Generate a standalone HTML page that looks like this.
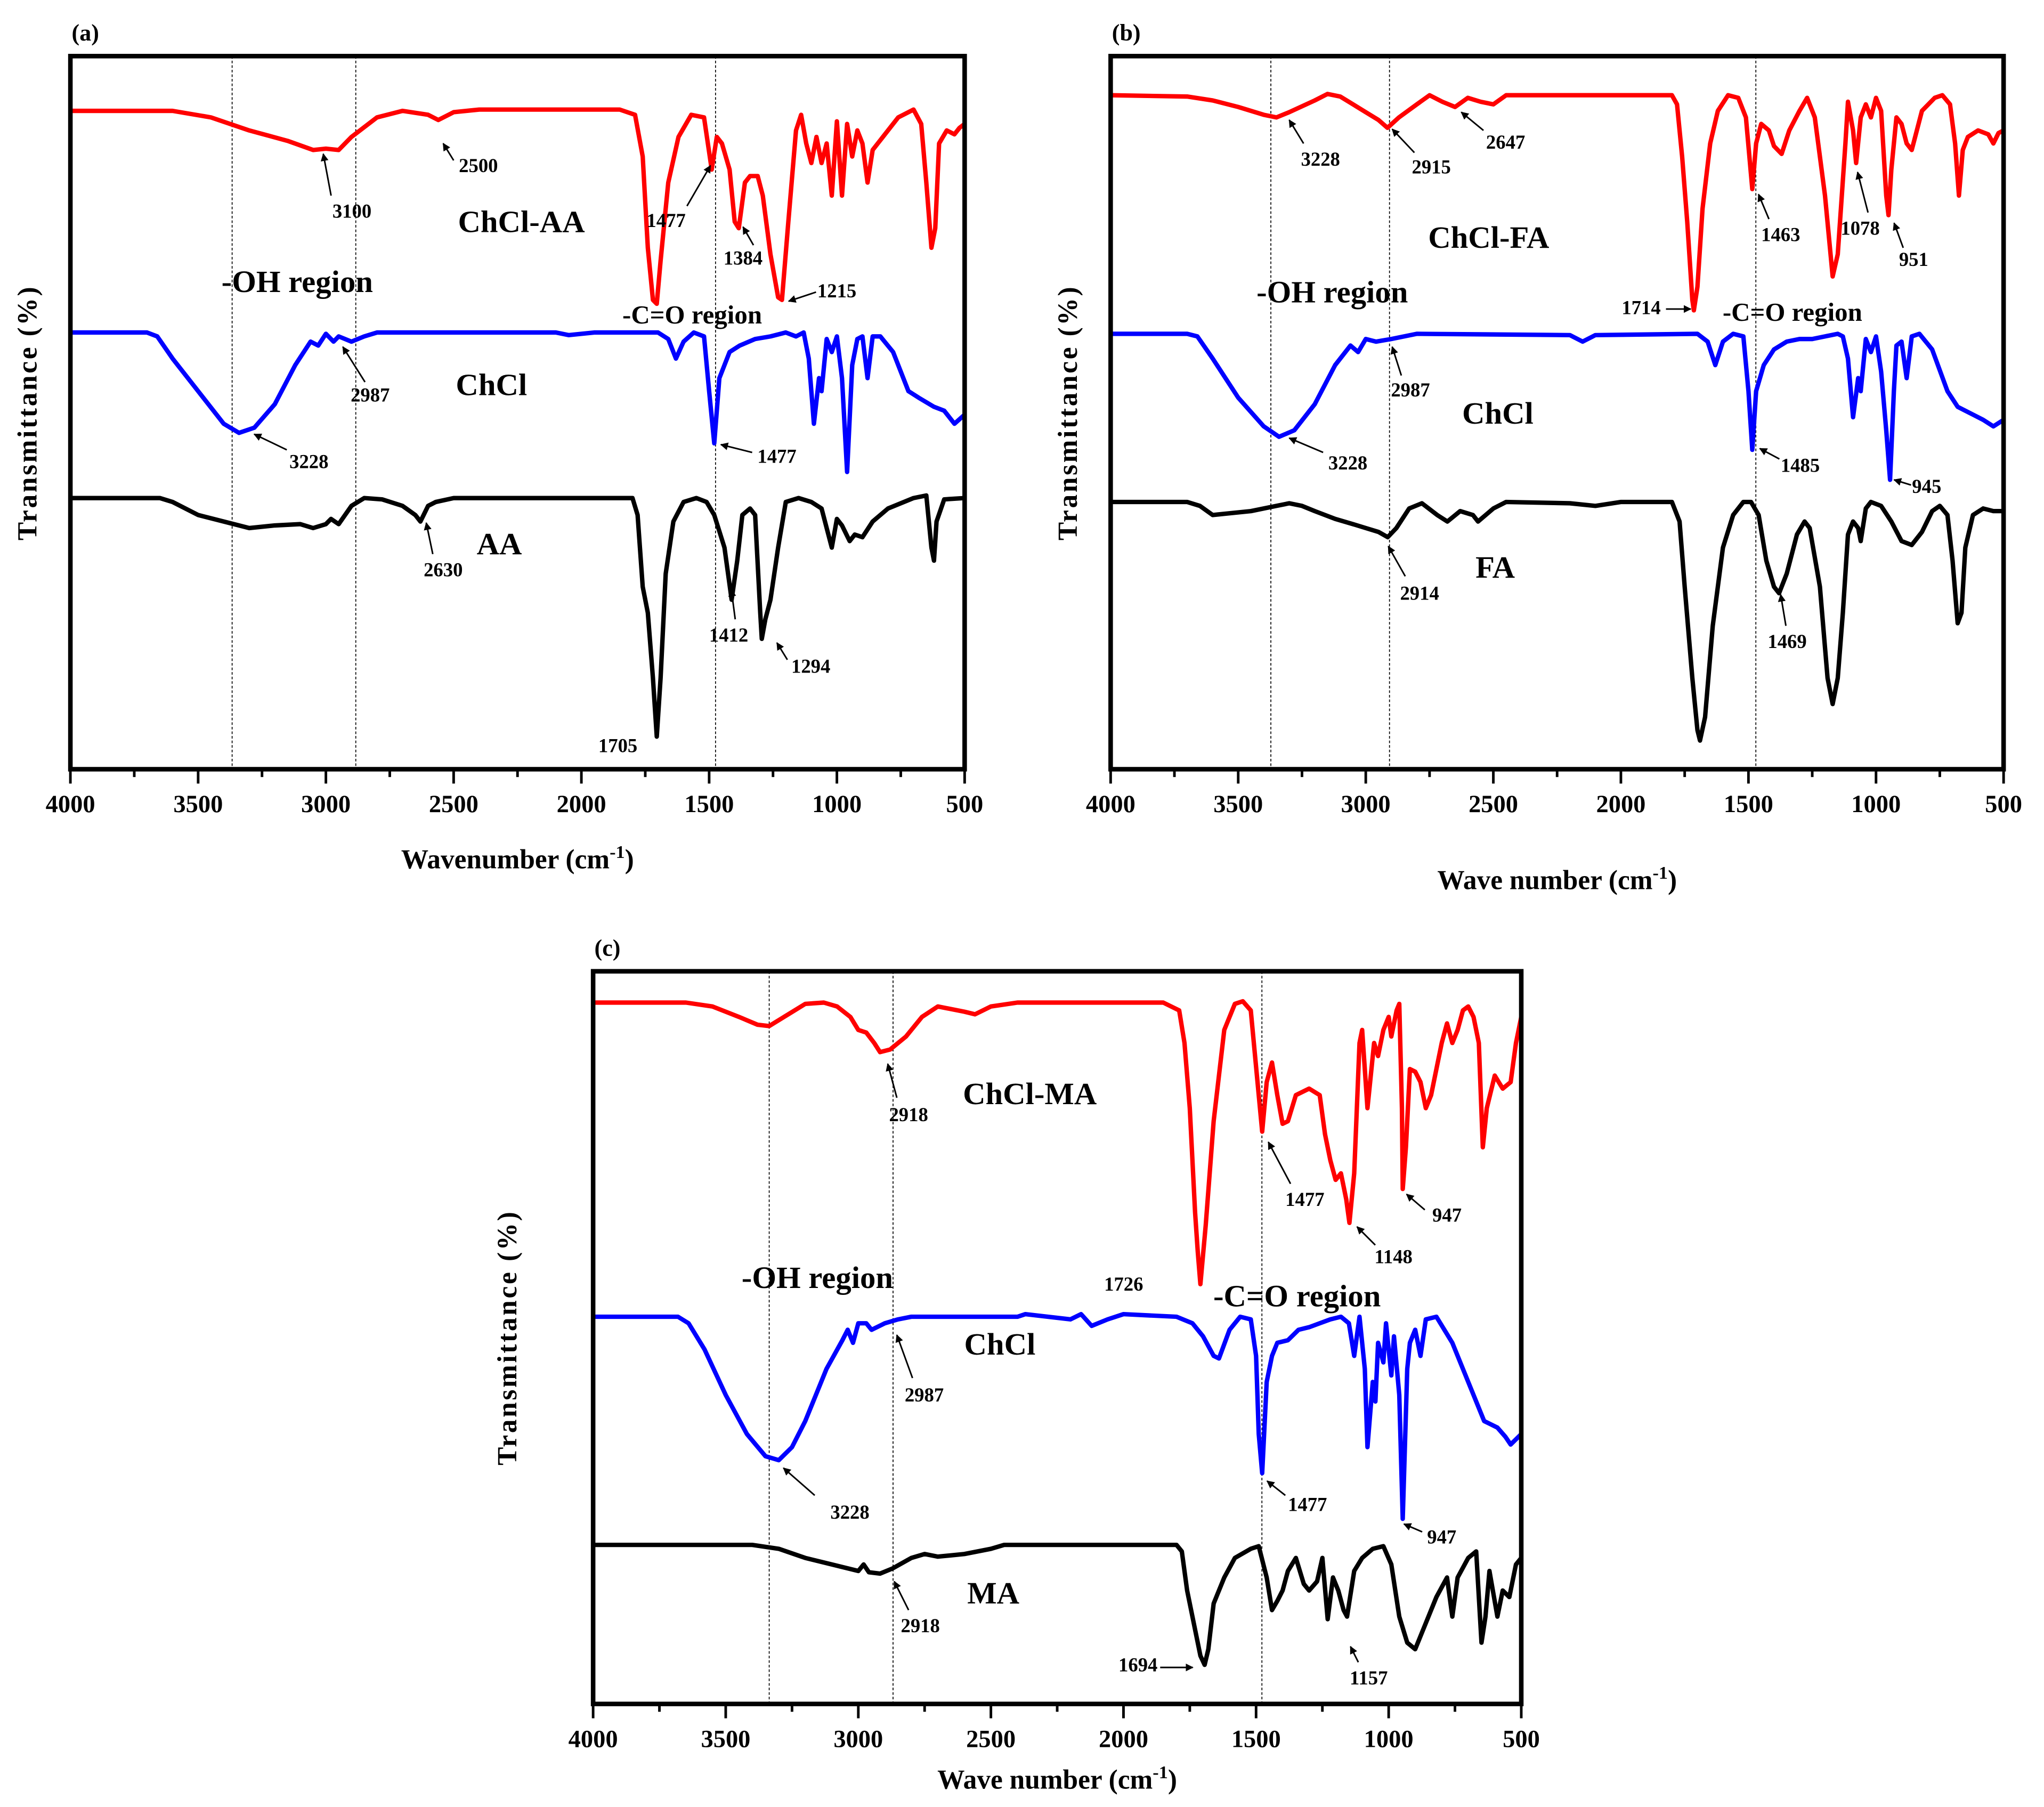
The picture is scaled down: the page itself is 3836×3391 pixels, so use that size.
<!DOCTYPE html>
<html><head><meta charset="utf-8"><style>
html,body{margin:0;padding:0;background:#fff}
svg{display:block}
text{font-family:"Liberation Serif","Times New Roman",serif;font-weight:bold;fill:#000}
</style></head><body>
<svg id="fig" xmlns="http://www.w3.org/2000/svg" width="3836" height="3391" viewBox="0 0 1568 1386">
<defs><marker id="ah" viewBox="0 0 10 10" refX="9" refY="5" markerWidth="5" markerHeight="5" orient="auto"><path d="M0,0 L10,5 L0,10 z" fill="#000"/></marker></defs>
</svg>
<script>
// ---- data: wavenumber (cm-1) and depth values (arbitrary units, increasing downward) ----
const aRedWn=[4000,3600,3450,3300,3150,3050,3000,2950,2900,2800,2700,2600,2560,2500,2400,1850,1790,1760,1740,1720,1705,1690,1660,1620,1570,1520,1490,1470,1450,1420,1400,1384,1360,1340,1310,1290,1260,1230,1215,1190,1160,1140,1120,1100,1080,1060,1040,1020,1000,980,960,940,920,900,880,860,820,760,700,670,650,630,615,600,570,540,520,500];
const aRedV=[85,85,90,100,108,115,114,115,105,90,85,88,92,86,84,84,88,120,190,230,233,200,140,105,88,90,130,105,110,130,170,175,140,135,135,150,195,228,230,170,100,88,110,125,105,125,110,150,93,150,95,120,100,110,140,115,105,90,84,95,140,190,175,110,100,103,98,95];
const aBlueWn=[4000,3700,3660,3600,3500,3400,3340,3280,3200,3120,3060,3030,3000,2970,2950,2900,2850,2800,2100,2050,1950,1700,1660,1630,1600,1560,1520,1500,1480,1460,1420,1380,1320,1260,1200,1160,1130,1110,1090,1070,1060,1040,1020,1000,980,960,940,920,900,880,860,830,780,720,680,620,580,540,500];
const aBlueV=[255,255,258,275,300,325,332,328,310,280,262,265,256,262,258,262,258,255,255,257,255,255,260,275,262,255,258,300,340,290,270,265,260,258,255,258,255,275,325,290,300,260,270,258,290,362,280,260,258,290,258,258,270,300,305,312,315,325,318];
const aBlackWn=[4000,3650,3600,3500,3400,3300,3200,3100,3050,3000,2980,2950,2900,2850,2780,2700,2650,2630,2600,2570,2500,1800,1780,1760,1740,1720,1705,1690,1670,1640,1600,1550,1510,1480,1440,1412,1390,1370,1340,1320,1300,1294,1280,1260,1230,1200,1150,1100,1060,1040,1020,1000,980,950,930,900,860,800,700,650,630,620,610,580,500];
const aBlackV=[382,382,385,395,400,405,403,402,405,402,398,402,388,382,383,388,395,400,388,385,382,382,395,450,470,520,565,520,440,400,385,382,385,395,420,460,430,395,390,395,470,490,475,460,420,385,382,385,390,405,420,398,403,415,410,412,400,390,382,380,420,430,400,383,382];

const bRedWn=[4000,3700,3600,3500,3400,3350,3300,3200,3150,3100,3050,3000,2950,2915,2870,2800,2750,2700,2650,2600,2550,2500,2450,2000,1800,1780,1760,1740,1720,1714,1700,1680,1650,1620,1580,1540,1510,1485,1470,1450,1420,1400,1370,1340,1300,1270,1240,1200,1170,1150,1120,1110,1090,1078,1060,1040,1020,1000,980,960,951,940,920,900,880,860,820,770,740,710,690,675,660,640,600,560,540,520,500];
const bRedV=[73,74,77,82,88,90,86,77,72,74,80,86,92,98,90,80,73,78,82,75,78,80,73,73,73,80,120,170,230,238,220,160,110,85,73,75,90,145,110,95,100,112,118,100,85,75,90,150,212,195,110,78,100,125,90,80,90,75,85,150,165,130,90,95,110,115,85,75,73,80,110,150,115,105,100,103,110,102,100];
const bBlueWn=[4000,3700,3660,3600,3500,3400,3340,3280,3200,3120,3060,3030,3000,2960,2900,2850,2800,2200,2150,2100,1700,1660,1630,1600,1560,1520,1500,1485,1470,1440,1400,1350,1300,1250,1200,1150,1130,1110,1090,1070,1060,1040,1020,1000,980,960,945,930,920,900,880,860,830,780,720,680,620,580,540,500];
const bBlueV=[256,256,258,275,305,327,335,330,310,280,265,270,260,262,260,258,256,257,262,257,256,262,280,262,256,258,300,345,300,280,268,262,260,260,258,256,258,275,320,290,300,260,270,258,285,330,368,300,265,262,290,258,256,268,300,312,318,322,327,322];
const bBlackWn=[4000,3700,3650,3600,3550,3450,3350,3300,3250,3200,3120,3050,3000,2950,2914,2880,2830,2780,2720,2680,2630,2580,2560,2500,2450,2200,2100,2000,1800,1770,1750,1720,1700,1690,1670,1640,1600,1560,1520,1490,1460,1430,1400,1380,1350,1310,1280,1260,1220,1190,1170,1150,1130,1110,1090,1070,1060,1040,1020,980,940,900,860,820,780,750,720,700,680,665,650,620,580,540,500];
const bBlackV=[385,385,388,395,394,392,388,386,388,392,398,402,405,408,412,405,390,386,395,400,392,395,400,390,385,386,388,385,385,400,450,520,560,568,550,480,420,395,385,385,395,430,450,455,440,410,400,405,450,520,540,520,470,410,400,405,415,390,385,388,400,415,418,408,392,388,395,430,478,470,420,395,390,392,392];

const cRedWn=[4000,3650,3550,3450,3380,3336,3280,3200,3130,3080,3030,3000,2970,2940,2918,2880,2820,2760,2700,2600,2560,2500,2400,1850,1790,1770,1750,1730,1720,1710,1690,1660,1620,1580,1550,1520,1490,1477,1460,1440,1420,1400,1380,1350,1300,1260,1240,1220,1200,1180,1160,1148,1130,1110,1100,1080,1070,1055,1040,1020,1000,990,970,960,950,947,935,920,900,880,860,840,800,780,760,740,720,700,680,660,645,630,600,570,540,520,500];
const cRedV=[769,769,772,780,786,787,780,770,769,772,780,790,792,800,807,805,795,780,772,776,778,772,769,769,775,800,850,930,960,985,940,860,790,770,768,775,840,868,830,815,840,862,860,840,835,840,870,890,905,900,920,938,900,800,790,850,830,800,810,790,780,795,775,770,850,912,880,820,822,830,850,840,800,785,800,790,775,772,780,800,880,850,825,835,830,800,780];
const cBlueWn=[4000,3680,3640,3580,3500,3420,3350,3300,3250,3200,3120,3060,3040,3020,3000,2970,2950,2900,2850,2800,2400,2370,2200,2160,2120,2060,2000,1800,1740,1700,1660,1640,1600,1560,1520,1500,1490,1477,1460,1440,1420,1380,1340,1300,1260,1220,1180,1150,1130,1110,1090,1080,1060,1050,1040,1020,1010,990,980,960,947,930,920,900,880,860,820,760,700,640,590,560,540,500];
const cBlueV=[1010,1010,1015,1035,1070,1100,1117,1120,1110,1090,1050,1028,1020,1030,1015,1015,1020,1015,1012,1010,1010,1008,1012,1008,1017,1012,1008,1010,1015,1025,1040,1042,1020,1010,1012,1040,1100,1130,1060,1040,1030,1028,1020,1018,1015,1012,1010,1015,1040,1010,1050,1110,1060,1075,1030,1045,1015,1055,1025,1070,1165,1050,1030,1020,1040,1012,1010,1030,1060,1090,1095,1102,1108,1100];
const cBlackWn=[4000,3400,3300,3200,3100,3000,2980,2960,2918,2870,2800,2750,2700,2600,2500,2450,1800,1780,1760,1730,1710,1694,1680,1660,1620,1580,1520,1490,1460,1440,1420,1400,1380,1350,1320,1300,1270,1250,1230,1210,1190,1170,1157,1130,1100,1060,1020,990,960,930,900,860,820,780,760,740,700,670,650,635,620,590,570,545,520,500];
const cBlackV=[1185,1185,1188,1195,1200,1205,1200,1206,1207,1203,1195,1192,1194,1192,1188,1185,1185,1190,1220,1250,1270,1277,1265,1230,1210,1195,1188,1186,1210,1235,1228,1220,1205,1195,1215,1220,1213,1195,1242,1210,1220,1235,1240,1205,1195,1188,1186,1200,1240,1260,1265,1245,1225,1210,1240,1210,1195,1190,1260,1240,1205,1240,1220,1225,1200,1195];

const xTicks=[4000,3500,3000,2500,2000,1500,1000,500];
const xMinor=[3750,3250,2750,2250,1750,1250,750];

const NS='http://www.w3.org/2000/svg';
const svg=document.getElementById('fig');
function el(tag,attrs,parent){const e=document.createElementNS(NS,tag);for(const k in attrs)e.setAttribute(k,attrs[k]);(parent||svg).appendChild(e);return e;}
function txt(s,x,y,size,parent,anchor){const t=el('text',{x:x,y:y,'font-size':size,'text-anchor':anchor||'middle'},parent);t.textContent=s;return t;}

function panel(cfg){
  const g=el('g',{});
  
  
  const L=cfg.L,R=cfg.R,T=cfg.T,B=cfg.B;
  const xS=wn=>L+(4000-wn)/3500*(R-L);
  const yS=v=>T+(v-cfg.d0)/(cfg.d1-cfg.d0)*(B-T);
  cfg.guides.forEach(w=>{const l=el('line',{x1:xS(w),x2:xS(w),y1:T,y2:B,stroke:'#000','stroke-width':0.7,'stroke-dasharray':'2,1.5'},g);
    });
  cfg.series.forEach(s=>{
    const d=s.wn.map((w,i)=>(i?'L':'M')+xS(w).toFixed(2)+','+yS(s.v[i]).toFixed(2)).join(' ');
    const p=el('path',{d:d,fill:'none',stroke:s.color,'stroke-width':3.4,'stroke-linejoin':'round'},g);
    
    
  });
  const f=el('rect',{x:L,y:T,width:R-L,height:B-T,fill:'none',stroke:'#000','stroke-width':3.5},g);
  
  xTicks.forEach(w=>{el('line',{x1:xS(w),x2:xS(w),y1:B,y2:B+11,stroke:'#000','stroke-width':2},g);
    const t=txt(String(w),xS(w),B+33,19,g);});
  xMinor.forEach(w=>el('line',{x1:xS(w),x2:xS(w),y1:B,y2:B+6,stroke:'#000','stroke-width':2},g));
  const xt=txt('',(L+R)/2,cfg.xtY,21,g);
  
  xt.textContent=cfg.xtitle+' (cm';
  const sup=el('tspan',{dy:-8,'font-size':14},xt);sup.textContent='-1';
  const cl=el('tspan',{dy:8},xt);cl.textContent=')';
  const yt=txt('Transmittance (%)',0,0,21,g);
  yt.setAttribute('transform','translate('+cfg.ytX+','+((T+B)/2)+') rotate(-90)');
  yt.setAttribute('letter-spacing','1.5');
  
  const pl=txt(cfg.label,L+1,T-12,18,g,'start');
  
  cfg.labels.forEach(a=>{const t=txt(a[0],a[1],a[2],a[3],g);});
  cfg.ann.forEach(a=>{const t=txt(a[0],a[1],a[2],15,g);
    if(a.length>3){const l=el('line',{x1:a[3],y1:a[4],x2:a[5],y2:a[6],stroke:'#000','stroke-width':1.2,'marker-end':'url(#ah)'},g);
      }});
}

panel({name:'panel-a',L:54,R:740,T:43,B:590,d0:43,d1:590,guides:[3367,2883,1475],label:'(a)',xtitle:'Wavenumber',xtY:666,ytX:28,
 series:[{name:'chcl-aa-curve',color:'#ff0000',wn:aRedWn,v:aRedV},{name:'chcl-curve',color:'#0000ff',wn:aBlueWn,v:aBlueV},{name:'aa-curve',color:'#000',wn:aBlackWn,v:aBlackV}],
 labels:[['ChCl-AA',400,178,24],['-OH region',228,224,24],['-C=O region',531,248,20],['ChCl',377,303,24],['AA',383,425,24]],
 ann:[['3100',270,167,254,150,248,118],['2500',367,132,348,123,340,110],['1477',511,174,527,158,545,127],['1384',570,203,578,188,570,174],['1215',642,228,626,224,605,231],
 ['2987',284,308,280,293,263,266],['3228',237,359,220,345,195,333],['1477',596,355,577,347,553,341],['2630',340,442,332,425,327,401],['1412',559,492,564,475,561,452],['1294',622,516,604,506,596,493],['1705',474,577]]});

panel({name:'panel-b',L:852,R:1537,T:43,B:590,d0:43,d1:590,guides:[3372,2907,1471],label:'(b)',xtitle:'Wave number',xtY:682,ytX:826,
 series:[{name:'chcl-fa-curve',color:'#ff0000',wn:bRedWn,v:bRedV},{name:'chcl-curve',color:'#0000ff',wn:bBlueWn,v:bBlueV},{name:'fa-curve',color:'#000',wn:bBlackWn,v:bBlackV}],
 labels:[['ChCl-FA',1142,190,24],['-OH region',1022,232,24],['-C=O region',1375,246,20],['ChCl',1149,325,24],['FA',1147,443,24]],
 ann:[['3228',1013,127,1000,110,989,92],['2915',1098,133,1085,117,1068,99],['2647',1155,114,1138,100,1121,86],['1463',1366,185,1357,168,1349,149],['1078',1427,180,1433,163,1425,132],['951',1468,204,1460,190,1453,171],
 ['1714',1259,241,1278,237,1297,237],['2987',1082,304,1075,288,1068,266],['3228',1034,360,1015,347,989,336],['1485',1381,362,1365,352,1350,344],['945',1478,378,1466,372,1453,368],['2914',1089,460,1078,442,1065,419],['1469',1371,497,1370,480,1366,456]]});

panel({name:'panel-c',L:455,R:1167,T:745,B:1307,d0:745,d1:1307,guides:[3336,2869,1478],label:'(c)',xtitle:'Wave number',xtY:1372,ytX:396,
 series:[{name:'chcl-ma-curve',color:'#ff0000',wn:cRedWn,v:cRedV},{name:'chcl-curve',color:'#0000ff',wn:cBlueWn,v:cBlueV},{name:'ma-curve',color:'#000',wn:cBlackWn,v:cBlackV}],
 labels:[['ChCl-MA',790,847,24],['-OH region',627,988,24],['1726',862,990,15],['-C=O region',995,1002,24],['ChCl',767,1039,24],['MA',762,1230,24]],
 ann:[['2918',697,860,688,842,681,816],['1477',1001,925,990,908,973,876],['947',1110,937,1093,928,1079,916],['1148',1069,969,1055,955,1041,941],['2987',709,1075,700,1057,688,1024],['3228',652,1165,625,1147,601,1126],
 ['1477',1003,1159,986,1147,972,1136],['947',1106,1184,1091,1175,1077,1169],['2918',706,1252,697,1235,686,1213],['1694',873,1282,890,1279,915,1279],['1157',1050,1292,1042,1275,1036,1263]]});
</script>
</body></html>
